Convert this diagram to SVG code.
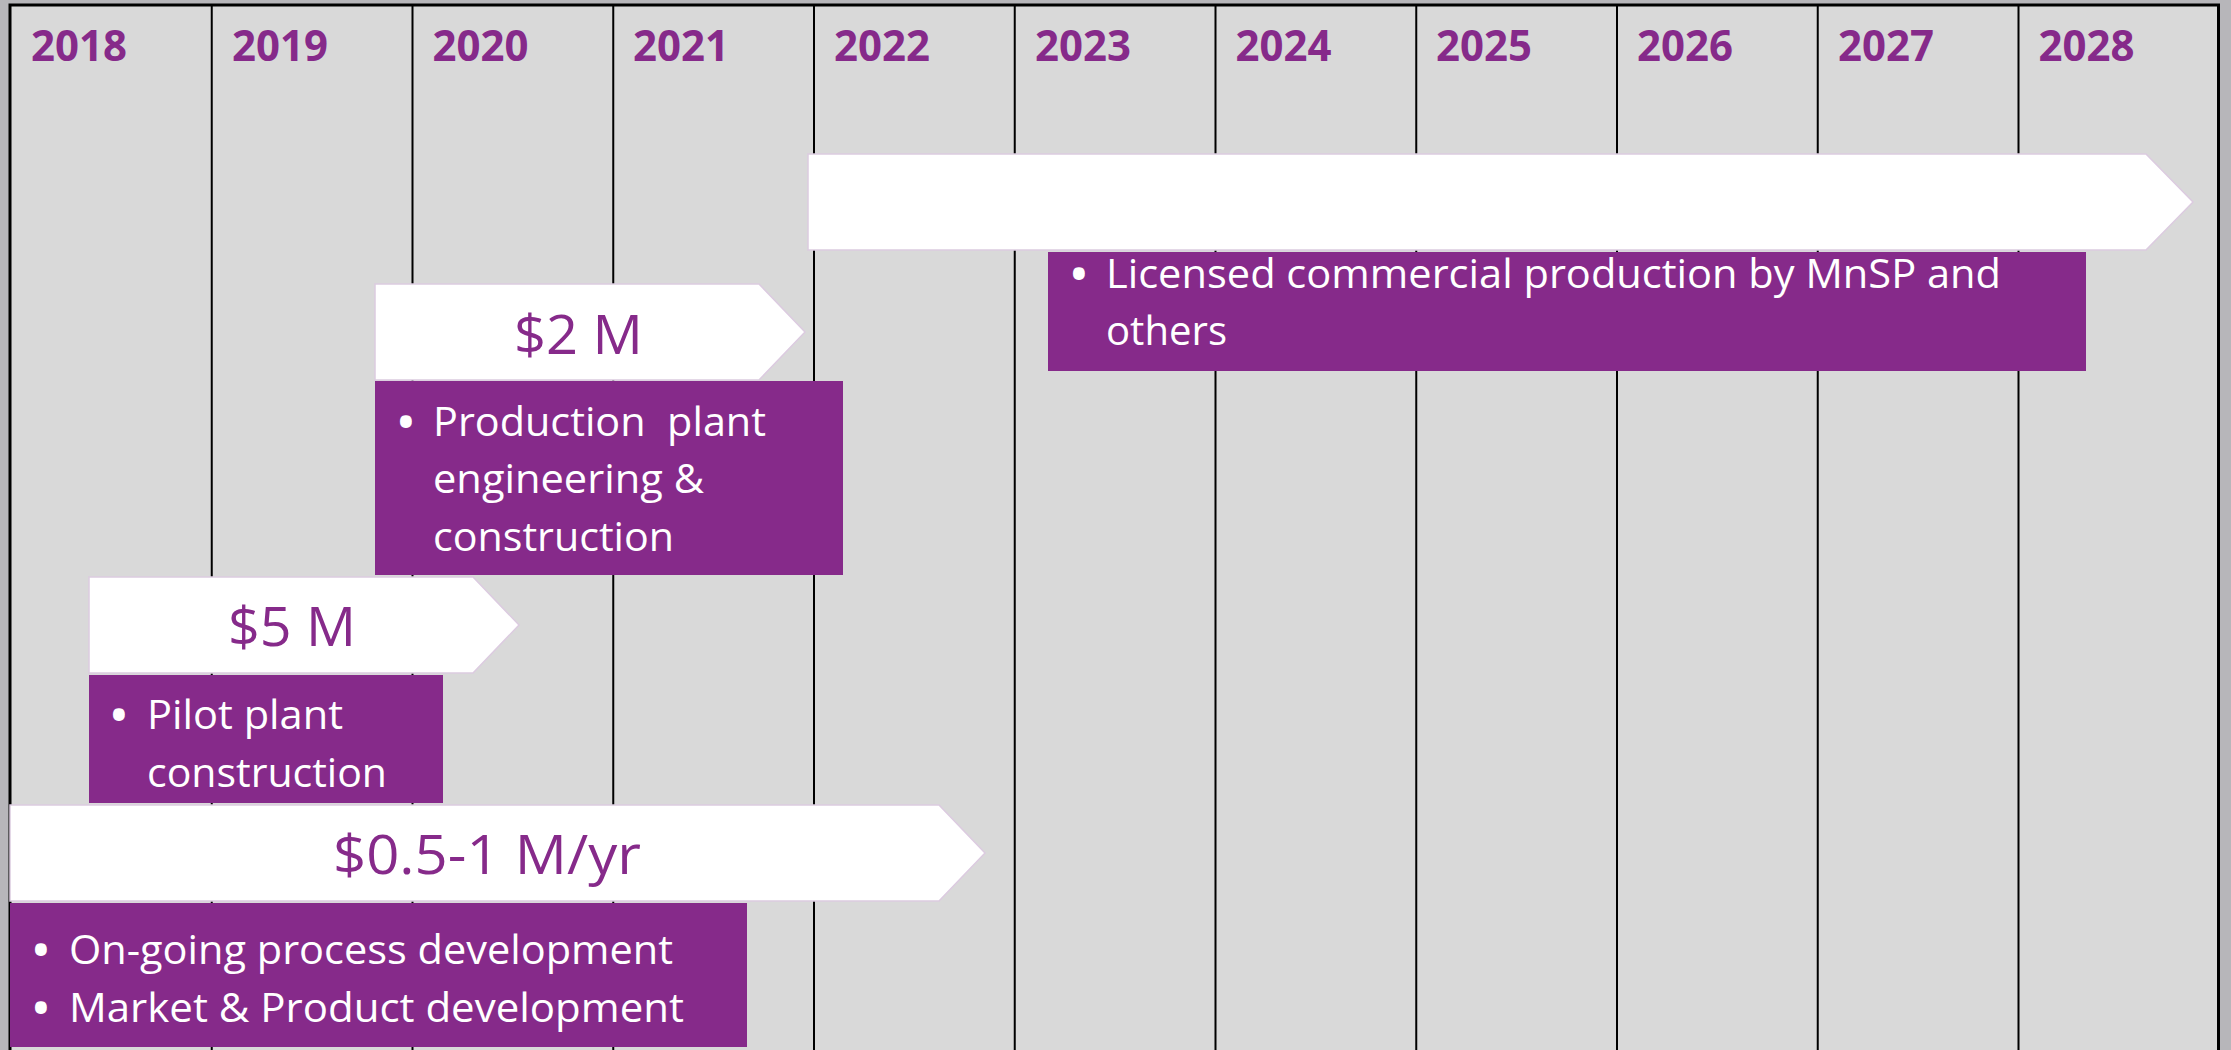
<svg xmlns="http://www.w3.org/2000/svg" width="2231" height="1050" viewBox="0 0 2231 1050">
<defs>
<style>
.year{font-family:"Open Sans","Noto Sans",sans-serif;font-weight:700;font-size:43px;fill:#862a8a}
.amt{font-family:"Open Sans","Noto Sans",sans-serif;font-size:55px;fill:#862a8a}
.bt{font-family:"Open Sans","Noto Sans",sans-serif;font-size:41px;fill:#ffffff}
.bul{font-family:"Open Sans","Noto Sans",sans-serif;font-weight:700;font-size:42px;fill:#ffffff}
.arrow{fill:#ffffff;stroke:#dccbe0;stroke-width:1.5}
.box{fill:#862a8a}
.col{stroke:#000000;stroke-width:2}
</style>
</defs>
<rect x="0" y="0" width="2231" height="1050" fill="#b7b6ba"/>
<rect x="10" y="5" width="2208.5" height="1050" fill="#d9d9d9"/>
<g id="grid">
<line class="col" x1="211.75" y1="5" x2="211.75" y2="1050"/>
<line class="col" x1="412.5" y1="5" x2="412.5" y2="1050"/>
<line class="col" x1="613.25" y1="5" x2="613.25" y2="1050"/>
<line class="col" x1="814" y1="5" x2="814" y2="1050"/>
<line class="col" x1="1014.75" y1="5" x2="1014.75" y2="1050"/>
<line class="col" x1="1215.5" y1="5" x2="1215.5" y2="1050"/>
<line class="col" x1="1416.25" y1="5" x2="1416.25" y2="1050"/>
<line class="col" x1="1617" y1="5" x2="1617" y2="1050"/>
<line class="col" x1="1817.75" y1="5" x2="1817.75" y2="1050"/>
<line class="col" x1="2018.5" y1="5" x2="2018.5" y2="1050"/>
<path d="M10,1050 V5 H2218.5 V1050" fill="none" stroke="#000000" stroke-width="3"/>
</g>
<g id="years">
<text class="year" x="31" y="61" textLength="96" lengthAdjust="spacingAndGlyphs">2018</text>
<text class="year" x="232" y="61" textLength="96" lengthAdjust="spacingAndGlyphs">2019</text>
<text class="year" x="432.5" y="61" textLength="96" lengthAdjust="spacingAndGlyphs">2020</text>
<text class="year" x="633" y="61" textLength="96" lengthAdjust="spacingAndGlyphs">2021</text>
<text class="year" x="834" y="61" textLength="96" lengthAdjust="spacingAndGlyphs">2022</text>
<text class="year" x="1035" y="61" textLength="96" lengthAdjust="spacingAndGlyphs">2023</text>
<text class="year" x="1235.5" y="61" textLength="96" lengthAdjust="spacingAndGlyphs">2024</text>
<text class="year" x="1436" y="61" textLength="96" lengthAdjust="spacingAndGlyphs">2025</text>
<text class="year" x="1637" y="61" textLength="96" lengthAdjust="spacingAndGlyphs">2026</text>
<text class="year" x="1838" y="61" textLength="96" lengthAdjust="spacingAndGlyphs">2027</text>
<text class="year" x="2038.5" y="61" textLength="96" lengthAdjust="spacingAndGlyphs">2028</text>
</g>
<g id="commercial">
<path class="arrow" d="M808,154 H2146 L2193,202 L2146,250 H808 Z"/>
<rect class="box" x="1048" y="252" width="1038" height="119"/>
<text class="bul" x="1071" y="289">•</text>
<text class="bt" x="1106" y="288" textLength="895" lengthAdjust="spacingAndGlyphs">Licensed commercial production by MnSP and</text>
<text class="bt" x="1106" y="345" textLength="121" lengthAdjust="spacingAndGlyphs">others</text>
</g>
<g id="production">
<path class="arrow" d="M375,284 H759 L805,332 L759,380 H375 Z"/>
<text class="amt" x="514" y="354" textLength="129" lengthAdjust="spacingAndGlyphs">$2 M</text>
<rect class="box" x="375" y="381" width="468" height="194"/>
<text class="bul" x="398" y="437">•</text>
<text class="bt" x="433" y="436" textLength="333" lengthAdjust="spacingAndGlyphs" xml:space="preserve">Production  plant</text>
<text class="bt" x="433" y="493" textLength="271" lengthAdjust="spacingAndGlyphs">engineering &amp;</text>
<text class="bt" x="433" y="551" textLength="241" lengthAdjust="spacingAndGlyphs">construction</text>
</g>
<g id="pilot">
<path class="arrow" d="M89,577 H473 L519,625 L473,673 H89 Z"/>
<text class="amt" x="228" y="646" textLength="128" lengthAdjust="spacingAndGlyphs">$5 M</text>
<rect class="box" x="89" y="675" width="354" height="128"/>
<text class="bul" x="111" y="730">•</text>
<text class="bt" x="147" y="729" textLength="196" lengthAdjust="spacingAndGlyphs">Pilot plant</text>
<text class="bt" x="147" y="787" textLength="240" lengthAdjust="spacingAndGlyphs">construction</text>
</g>
<g id="development">
<path class="arrow" d="M10,805 H939 L985,853 L939,901 H10 Z"/>
<text class="amt" x="333" y="874" textLength="308" lengthAdjust="spacingAndGlyphs">$0.5-1 M/yr</text>
<rect class="box" x="10" y="903" width="737" height="144"/>
<text class="bul" x="33" y="965">•</text>
<text class="bt" x="69" y="964" textLength="604" lengthAdjust="spacingAndGlyphs">On-going process development</text>
<text class="bul" x="33" y="1023">•</text>
<text class="bt" x="69" y="1022" textLength="615" lengthAdjust="spacingAndGlyphs">Market &amp; Product development</text>
</g>
</svg>
